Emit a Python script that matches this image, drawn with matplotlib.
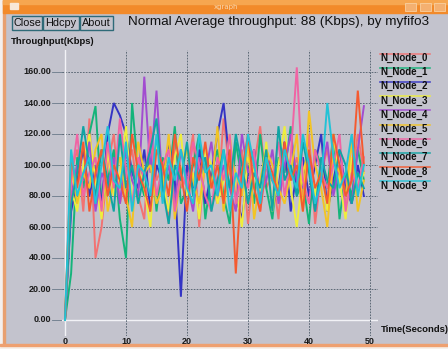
import matplotlib
matplotlib.use("Agg")
import matplotlib.pyplot as plt
from matplotlib.patches import Rectangle
import numpy as np

W, H = 448, 349
DPI = 100

title = "Normal Average throughput: 88 (Kbps), by myfifo3"
y_label = "Throughput(Kbps)"
x_label = "Time(Seconds)"
buttons = ["Close", "Hdcpy", "About"]
x_ticks = [0, 10, 20, 30, 40, 50]
y_ticks = [0, 20, 40, 60, 80, 100, 120, 140, 160]
series_names = ["N_Node_0", "N_Node_1", "N_Node_2", "N_Node_3", "N_Node_4",
                "N_Node_5", "N_Node_6", "N_Node_7", "N_Node_8", "N_Node_9"]
series_colors = ["#f27272", "#14b47a", "#3434c4", "#eeee3c", "#a24cd0",
                 "#f2c424", "#f064a4", "#10a4a4", "#f45a30", "#22c2d6"]

time = list(range(50))
node0 = [0, 95, 110, 70, 130, 40, 60, 100, 120, 75, 95, 110, 80, 65, 125, 90, 100, 62, 115, 85,
         95, 120, 60, 105, 90, 75, 130, 95, 80, 110, 62, 100, 125, 85, 95, 65, 115, 90, 105, 80,
         120, 62, 95, 110, 85, 100, 75, 90, 120, 95]
node1 = [0, 30, 105, 85, 120, 138, 75, 90, 110, 65, 40, 140, 95, 80, 115, 70, 105, 90, 125, 75,
         85, 100, 120, 65, 95, 110, 80, 62, 115, 90, 100, 75, 120, 85, 65, 105, 95, 125, 80, 90,
         62, 110, 100, 85, 120, 65, 95, 80, 110, 90]
node2 = [0, 70, 90, 110, 80, 100, 75, 120, 140, 132, 120, 95, 85, 110, 70, 100, 90, 115, 90, 15,
         100, 85, 110, 75, 95, 120, 140, 100, 80, 65, 95, 110, 75, 100, 90, 85, 115, 70, 95, 105,
         80, 100, 120, 70, 90, 110, 85, 75, 100, 80]
node3 = [0, 85, 70, 100, 120, 90, 65, 110, 80, 95, 125, 75, 100, 85, 60, 115, 90, 70, 105, 120,
         80, 95, 65, 110, 100, 75, 90, 120, 85, 60, 105, 95, 80, 115, 70, 100, 125, 85, 60, 95,
         110, 80, 100, 70, 120, 90, 65, 105, 85, 95]
node4 = [0, 80, 100, 90, 115, 70, 95, 85, 105, 75, 110, 90, 80, 157, 95, 148, 85, 100, 75, 110,
         90, 70, 105, 95, 115, 80, 100, 85, 70, 120, 95, 105, 80, 90, 110, 75, 100, 120, 90, 85,
         105, 70, 95, 115, 80, 100, 90, 75, 110, 138]
node5 = [0, 100, 75, 95, 85, 110, 120, 70, 90, 105, 80, 60, 115, 95, 100, 75, 85, 120, 65, 95,
         110, 90, 75, 100, 85, 125, 70, 105, 95, 80, 115, 65, 90, 110, 100, 85, 75, 95, 120, 70,
         135, 100, 85, 60, 105, 95, 80, 115, 70, 90]
node6 = [0, 90, 120, 80, 95, 105, 70, 115, 85, 130, 95, 75, 105, 90, 120, 80, 100, 110, 70, 95,
         85, 115, 100, 80, 70, 105, 90, 120, 75, 95, 85, 110, 70, 100, 90, 115, 80, 105, 163, 90,
         75, 110, 95, 85, 100, 120, 70, 95, 85, 105]
node7 = [0, 75, 95, 125, 100, 80, 110, 90, 70, 120, 85, 100, 75, 95, 110, 130, 85, 62, 100, 90,
         115, 80, 95, 105, 70, 90, 110, 85, 120, 100, 75, 95, 85, 110, 70, 125, 90, 100, 80, 115,
         95, 70, 105, 90, 85, 110, 100, 75, 95, 85]
node8 = [0, 105, 85, 115, 70, 95, 110, 80, 100, 90, 75, 120, 95, 85, 70, 110, 100, 80, 120, 95,
         70, 105, 90, 115, 85, 100, 75, 110, 30, 95, 120, 85, 70, 105, 95, 80, 115, 90, 100, 70,
         110, 85, 95, 75, 120, 100, 80, 90, 148, 100]
node9 = [0, 110, 80, 95, 105, 75, 100, 125, 90, 85, 115, 70, 100, 95, 80, 120, 75, 105, 90, 110,
         85, 75, 120, 95, 100, 80, 110, 70, 95, 85, 120, 100, 75, 105, 90, 80, 110, 95, 85, 120,
         100, 75, 90, 140, 105, 85, 95, 120, 80, 100]
series = [node0, node1, node2, node3, node4, node5, node6, node7, node8, node9]

BG = "#c3c3cd"
fig = plt.figure(figsize=(W / DPI, H / DPI), dpi=DPI, facecolor=BG)

# window frame (overlay axes in pixel coords)
frame = fig.add_axes([0, 0, 1, 1], zorder=-5)
frame.set_xlim(0, W)
frame.set_ylim(H, 0)
frame.axis("off")
frame.add_patch(Rectangle((0, 0), W, H, color=BG))
frame.add_patch(Rectangle((0, 0), 3, H, color="#f4f0ee"))
frame.add_patch(Rectangle((3, 0), 2, H, color="#e8a070"))
frame.add_patch(Rectangle((0, 346), W, 3, color="#f6f0ea"))
frame.add_patch(Rectangle((0, 344), W, 2, color="#eea070"))
frame.add_patch(Rectangle((3, 0), W, 13, color="#f28a2a"))
frame.add_patch(Rectangle((3, 0), W, 4, color="#f6a650"))
frame.add_patch(Rectangle((10, 3), 8, 6, color="#f8e8d8"))
frame.text(226, 7, "xgraph", fontsize=5, color="#f8d8b0", ha="center", va="center")
for bx in (405, 420, 434):
    frame.add_patch(Rectangle((bx, 3), 11, 8, facecolor="#f4b070", edgecolor="#f8d0a0", lw=0.6))

# buttons
bpos = [(12, 30), (43, 36), (80, 33)]
for (bx, bw), lab in zip(bpos, buttons):
    frame.add_patch(Rectangle((bx, 16), bw, 14, facecolor=BG, edgecolor="#2e6a78", lw=1.0))
    frame.text(bx + bw / 2, 23.5, lab, fontsize=7.8, family="Liberation Sans",
               color="#101010", ha="center", va="center")

frame.text(279, 22.5, title, fontsize=9.7, family="Liberation Sans", color="#101010",
           ha="center", va="center")
frame.text(11, 41, y_label, fontsize=6.8, family="Liberation Sans", fontweight="bold",
           color="#101010", ha="left", va="center")

# plotting axes: data x 0->px65, 50->px370 ; y 0->px320, 160->px72
x0p, x1p = 65, 370
y0p, y1p = 320, 72
sx = (x1p - x0p) / 50.0
sy = (y0p - y1p) / 160.0
left_px, right_px, top_px, bot_px = 62, 378, 50, 336
xlim = ((left_px - x0p) / sx, (right_px - x0p) / sx)
ylim = ((y0p - bot_px) / sy, (y0p - top_px) / sy)

ax = fig.add_axes([left_px / W, 1 - bot_px / H, (right_px - left_px) / W, (bot_px - top_px) / H])
ax.set_facecolor("none")
ax.set_xlim(*xlim)
ax.set_ylim(*ylim)
for s in ax.spines.values():
    s.set_visible(False)
ax.set_xticks([])
ax.set_yticks([])

gridc = "#4c5a68"
for yt in y_ticks:
    if yt == 0:
        ax.axhline(yt, color="#f2f2f6", lw=1.0, zorder=1)
    else:
        ax.axhline(yt, color=gridc, lw=0.6, ls=(0, (2, 1.5)), zorder=1)
for xt in x_ticks:
    if xt == 0:
        ax.axvline(xt, color="#f2f2f6", lw=1.0, zorder=1)
    else:
        ax.axvline(xt, color=gridc, lw=0.6, ls=(0, (2, 1.5)), zorder=1)

for vals, c in zip(series, series_colors):
    ax.plot(time, vals, color=c, lw=1.4, zorder=3, solid_joinstyle="miter")

# tick labels
for yt in y_ticks:
    yp = y0p - yt * sy
    frame.text(51, yp, f"{yt:.2f}", fontsize=6.5, family="Liberation Sans", fontweight="bold",
               color="#1a1a1a", ha="right", va="center")
    frame.plot([52, 62], [yp, yp], color="#6a7a8a", lw=0.6)
for xt in x_ticks:
    xp = x0p + xt * sx
    frame.text(xp, 341, f"{xt}", fontsize=6.5, family="Liberation Sans", fontweight="bold",
               color="#1a1a1a", ha="center", va="center")
frame.text(381, 330, x_label, fontsize=6.8, family="Liberation Sans", fontweight="bold",
           color="#101010", ha="left", va="center")

# legend
for i, (name, c) in enumerate(zip(series_names, series_colors)):
    ly = 58 + i * 14.2
    frame.plot([380, 430], [ly - 4.5, ly - 4.5], color=c, lw=1.2, alpha=0.85)
    frame.text(380, ly, name, fontsize=7, family="Liberation Sans", fontweight="bold",
               color="#101010", ha="left", va="center")

fig.savefig("out.png", dpi=DPI, facecolor=BG)
